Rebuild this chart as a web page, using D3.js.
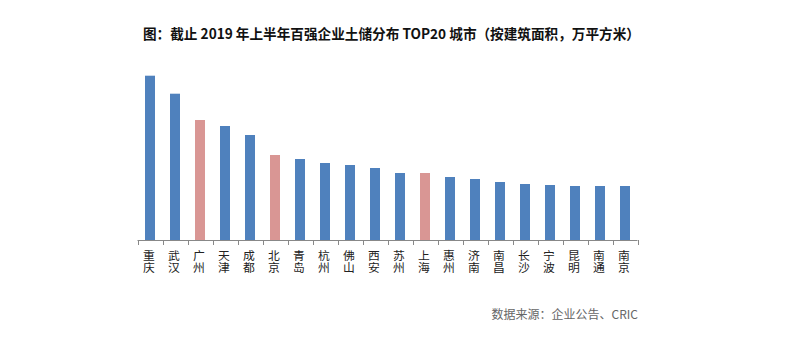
<!DOCTYPE html>
<html><head><meta charset="utf-8">
<script src="https://cdn.jsdelivr.net/npm/d3@7"></script>
<style>html,body{margin:0;padding:0;background:#fff;}</style>
</head><body>
<svg id="chart" width="790" height="347"></svg>
<script>
const cities = ["重庆","武汉","广州","天津","成都","北京","青岛","杭州","佛山","西安","苏州","上海","惠州","济南","南昌","长沙","宁波","昆明","南通","南京"];
const values = [1643,1463,1200,1140,1050,850,810,770,750,720,670,670,630,610,580,560,550,540,540,540];
const highlighted = ["广州","北京","上海"];
const title = "图：截止 2019 年上半年百强企业土储分布 TOP20 城市（按建筑面积，万平方米）";
const source = "数据来源：企业公告、CRIC";

const svg = d3.select("#chart");
const font = "'Noto Sans CJK SC', 'Microsoft YaHei', sans-serif";
const x = d3.scaleBand().domain(cities).range([137.5, 637.5]).paddingInner(0.6).paddingOuter(0.3);
const y = d3.scaleLinear().domain([0, 1643]).range([240, 75.7]);

svg.append("text").attr("x", 143).attr("y", 39)
  .attr("textLength", 497).attr("lengthAdjust", "spacingAndGlyphs")
  .attr("font-family", font).attr("font-weight", "bold").attr("font-size", 14).attr("fill", "#111")
  .text(title);

svg.append("g").selectAll("rect").data(cities).join("rect")
  .attr("x", d => x(d)).attr("width", x.bandwidth())
  .attr("y", (d, i) => y(values[i])).attr("height", (d, i) => y(0) - y(values[i]))
  .attr("fill", d => highlighted.includes(d) ? "#D99694" : "#4F81BD");

// axis line and ticks at band boundaries
const step = x.step();
const x0 = 137.5;
const axis = svg.append("g");
axis.append("line").attr("x1", x0).attr("x2", x0 + step * cities.length).attr("y1", 240.5).attr("y2", 240.5)
  .attr("stroke", "#888").attr("stroke-width", 1);
axis.selectAll("line.t").data(d3.range(cities.length + 1)).join("line").attr("class", "t")
  .attr("x1", i => Math.round(x0 + step * i) + 0.5).attr("x2", i => Math.round(x0 + step * i) + 0.5)
  .attr("y1", 240).attr("y2", 245).attr("stroke", "#888");

svg.append("g").selectAll("text").data(cities).join("text")
  .attr("x", d => x(d) + x.bandwidth() / 2 - 1)
  .attr("y", 250)
  .style("writing-mode", "vertical-rl")
  .attr("font-family", font).attr("font-size", 11.8).attr("fill", "#222")
  .text(d => d);

svg.append("text").attr("x", 638).attr("y", 319).attr("text-anchor", "end")
  .attr("font-family", font).attr("font-size", 12).attr("fill", "#666").text(source);
</script>
</body></html>
